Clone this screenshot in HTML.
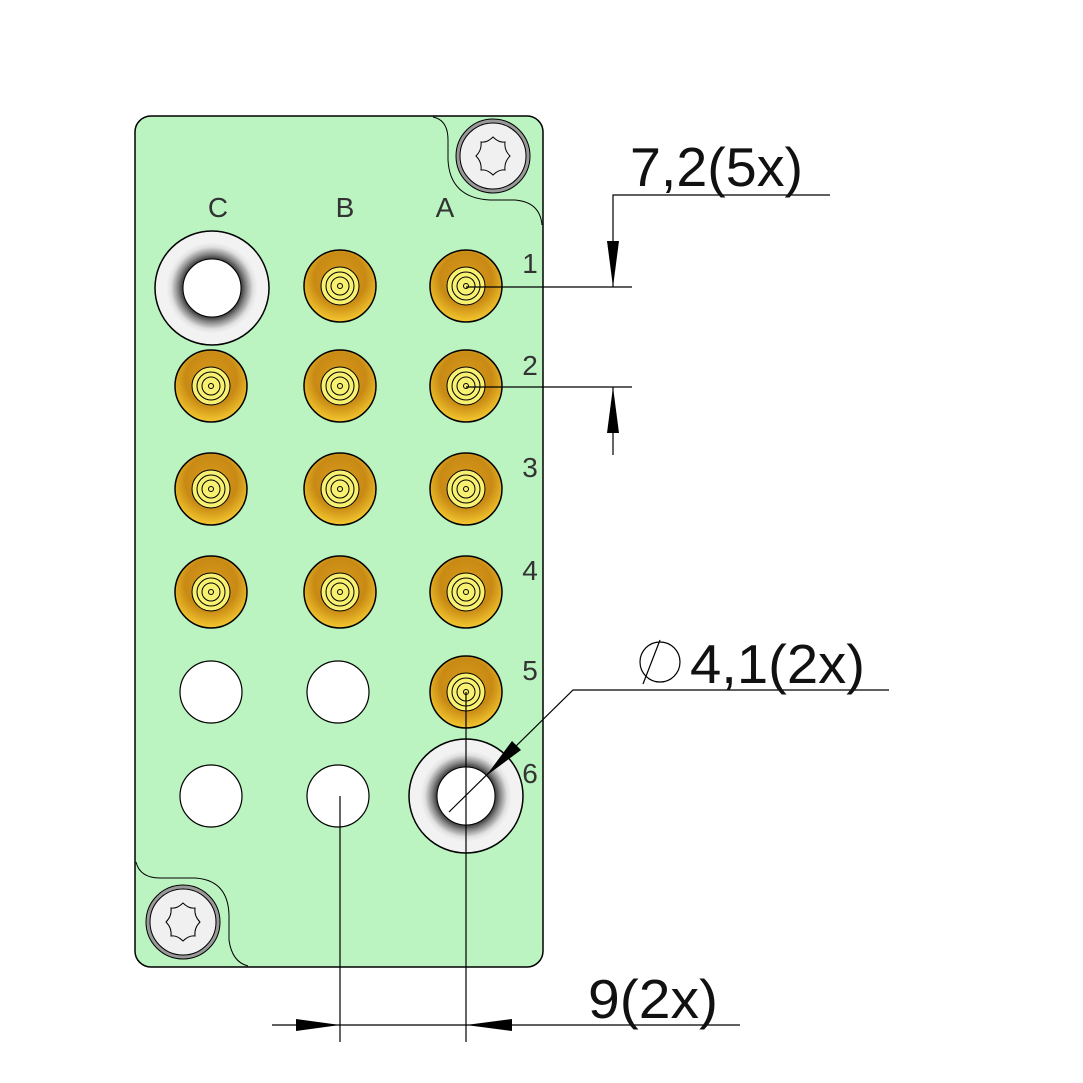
<!DOCTYPE html>
<html><head><style>body{margin:0;background:#fff}svg{display:block}</style></head><body>
<svg width="1083" height="1083" viewBox="0 0 1083 1083" xmlns="http://www.w3.org/2000/svg" font-family="Liberation Sans, sans-serif">
<defs>
<radialGradient id="gold" cx="50%" cy="40%" r="60%">
<stop offset="0" stop-color="#d89a1c"/><stop offset="0.6" stop-color="#c88a14"/><stop offset="1" stop-color="#f5c830"/>
</radialGradient>
<radialGradient id="grom" cx="50%" cy="50%" r="50%">
<stop offset="0.5" stop-color="#303030"/><stop offset="0.6" stop-color="#888"/><stop offset="0.72" stop-color="#e0e0e0"/><stop offset="0.8" stop-color="#f2f2f2"/><stop offset="1" stop-color="#f2f2f2"/>
</radialGradient>
<g id="pin">
<circle r="36" fill="url(#gold)" stroke="#000" stroke-width="1.5"/>
<circle r="19" fill="#f8f070" stroke="#000" stroke-width="1"/>
<circle r="14" fill="none" stroke="#000" stroke-width="1"/>
<circle r="9" fill="none" stroke="#000" stroke-width="1"/>
<circle r="2.5" fill="none" stroke="#000" stroke-width="1"/>
</g>
<g id="hole"><circle r="31" fill="#fff" stroke="#000" stroke-width="1.2"/></g>
<g id="grommet">
<circle r="57" fill="url(#grom)" stroke="#000" stroke-width="1.5"/>
<circle r="29" fill="#fff" stroke="#000" stroke-width="1"/>
</g>
<g id="screw">
<circle r="37" fill="#999" stroke="#000" stroke-width="1"/>
<circle r="33" fill="#f0f0f0" stroke="#000" stroke-width="1"/>
<path d="M0,-19 Q6,-13 12,-14 Q11,-6 17,0 Q11,6 12,14 Q6,13 0,19 Q-6,13 -12,14 Q-11,6 -17,0 Q-11,-6 -12,-14 Q-6,-13 0,-19Z" fill="none" stroke="#000" stroke-width="1"/>
</g>
</defs>
<rect x="135" y="116" width="408" height="851" rx="16" fill="#bbf4c1" stroke="#000" stroke-width="1.5"/>
<path d="M433,117 Q448,120 448,140 L448,160 Q450,198 490,200 L515,200 Q540,202 542,225" fill="none" stroke="#000" stroke-width="1"/>
<path d="M136,862 Q140,878 160,878 L195,878 Q228,880 229,915 L229,940 Q232,962 248,966" fill="none" stroke="#000" stroke-width="1"/>
<use href="#screw" x="493" y="156"/>
<use href="#screw" x="183" y="922"/>
<g font-size="28" fill="#333" text-anchor="middle">
<text x="218" y="217">C</text><text x="345" y="217">B</text><text x="445" y="217">A</text>
<text x="530" y="273">1</text><text x="530" y="375">2</text><text x="530" y="477">3</text>
<text x="530" y="580">4</text><text x="530" y="680">5</text><text x="530" y="783">6</text>
</g>
<use href="#grommet" x="212" y="288"/>
<use href="#pin" x="340" y="286"/><use href="#pin" x="466" y="286"/>
<use href="#pin" x="211" y="386"/><use href="#pin" x="340" y="386"/><use href="#pin" x="466" y="386"/>
<use href="#pin" x="211" y="489"/><use href="#pin" x="340" y="489"/><use href="#pin" x="466" y="489"/>
<use href="#pin" x="211" y="592"/><use href="#pin" x="340" y="592"/><use href="#pin" x="466" y="592"/>
<use href="#hole" x="211" y="692"/><use href="#hole" x="338" y="692"/><use href="#pin" x="466" y="692"/>
<use href="#hole" x="211" y="796"/><use href="#hole" x="338" y="796"/><use href="#grommet" x="466" y="796"/>
<g stroke="#000" stroke-width="1.2" fill="none">
<path d="M466,287 H632 M466,387 H632 M613,287 V195 H830 M613,387 V455"/>
<path d="M340,796 V1042 M466,692 V1042 M272,1025 H740"/>
<path d="M449,812 L573,690 H889"/>
<path d="M643,684 L660,640" />
<circle cx="660" cy="662" r="20"/>
</g>
<g fill="#000">
<path d="M613,287 L607,241 L619,241Z"/>
<path d="M613,387 L607,433 L619,433Z"/>
<path d="M340,1025 L296,1019 L296,1031Z"/>
<path d="M466,1025 L512,1019 L512,1031Z"/>
<path d="M486,776 L512,741 L521,750Z"/>
</g>
<g font-size="55" fill="#111">
<text x="630" y="186" textLength="173" lengthAdjust="spacingAndGlyphs">7,2(5x)</text>
<text x="690" y="683" textLength="175" lengthAdjust="spacingAndGlyphs">4,1(2x)</text>
<text x="588" y="1018" textLength="130" lengthAdjust="spacingAndGlyphs">9(2x)</text>
</g>
</svg>
</body></html>
